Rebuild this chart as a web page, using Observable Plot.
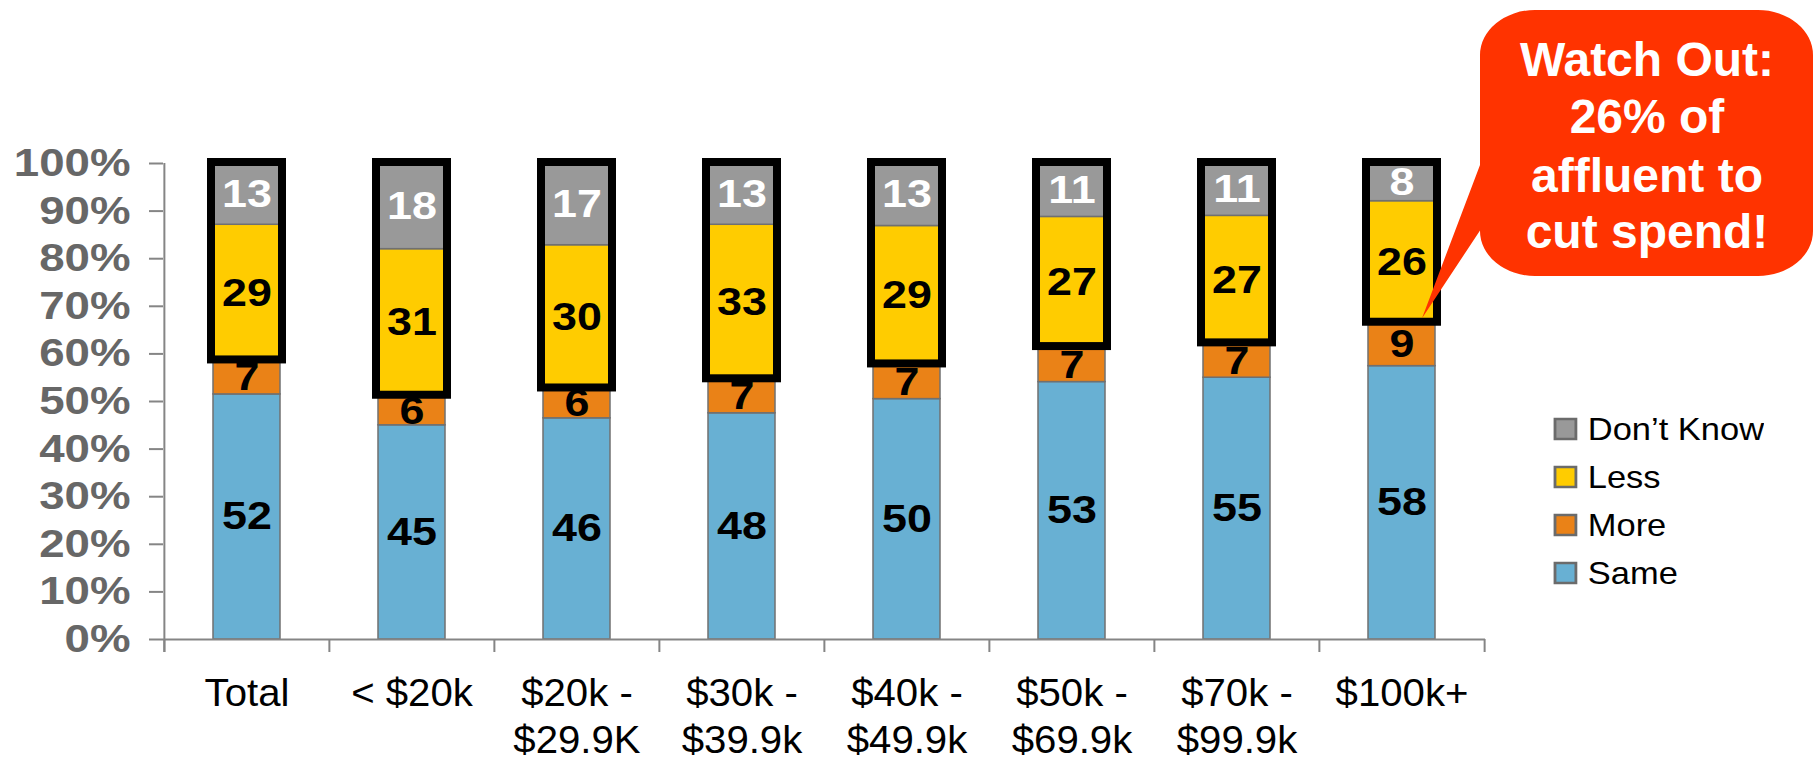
<!DOCTYPE html>
<html>
<head>
<meta charset="utf-8">
<script src="https://cdn.jsdelivr.net/npm/d3@7"></script>
<script src="https://cdn.jsdelivr.net/npm/@observablehq/plot@0.6"></script>
<style>
  html, body { margin: 0; padding: 0; background: #fff; }
  #wrap { position: relative; width: 1815px; height: 760px; overflow: hidden; font-family: "Liberation Sans", Arial, sans-serif; }
  #legend { position: absolute; left: 1555px; top: 405px; transform: scaleX(1.13); transform-origin: 0 0; }
  #legend .lg-swatches { font-family: "Liberation Sans", Arial, sans-serif; font-size: 30.5px; color: #000; margin: 0; min-height: 0; }
  #legend .lg-swatch { height: 48px; padding: 0; margin: 0; display: flex; align-items: center; }
  #legend .lg-swatch > svg { margin-right: 10.5px; overflow: visible; }
  #legend .lg-swatch > svg rect { stroke: #6b6b6b; stroke-width: 2.5px; }
</style>
</head>
<body>
<div id="wrap"><div id="chart"></div><div id="legend"></div></div>
<script>
// ---- data ----
const categories = ["Total", "< $20k", "$20k -\n$29.9K", "$30k -\n$39.9k", "$40k -\n$49.9k", "$50k -\n$69.9k", "$70k -\n$99.9k", "$100k+"];
const responses = ["Same", "More", "Less", "Don’t Know"];           // stack order, bottom to top
const same     = [52, 45, 46, 48, 50, 53, 55, 58];
const more     = [7, 6, 6, 7, 7, 7, 7, 9];
const less     = [29, 31, 30, 33, 29, 27, 27, 26];
const dontKnow = [13, 18, 17, 13, 13, 11, 11, 8];
const legendOrder = ["Don’t Know", "Less", "More", "Same"];
const legendColors = ["#999999", "#FFCC00", "#EA8217", "#68B0D3"];
const yTicks = [0, 0.1, 0.2, 0.3, 0.4, 0.5, 0.6, 0.7, 0.8, 0.9, 1];
const calloutLines = ["Watch Out:", "26% of", "affluent to", "cut spend!"];

// ---- table built from arrays ----
const series = [same, more, less, dontKnow];
const rows = [];
categories.forEach((c, i) => responses.forEach((r, k) => rows.push({cat: c, resp: r, v: series[k][i]})));
const boxes = categories.map((c, i) => {
  const tot = same[i] + more[i] + less[i] + dontKnow[i];
  return {cat: c, lo: (same[i] + more[i]) / tot, hi: 1};
});

// ---- layout ----
const W = 1815, H = 760, mL = 163, mR = 330, mT = 163, mB = 121;
const innerW = W - mL - mR, innerH = H - mT - mB;
const pIn = 0.595, pOut = pIn / 2;
const step = innerW / (categories.length - pIn + 2 * pOut);
const tickLen = 13 / innerH;
const axisColor = "#858585";

const stackOpts = {x: "cat", y: "v", z: "resp", order: responses, offset: "normalize"};

const chart = Plot.plot({
  width: W, height: H,
  marginLeft: mL, marginRight: mR, marginTop: mT, marginBottom: mB,
  style: {fontFamily: "'Liberation Sans', Arial, sans-serif", background: "white", overflow: "visible"},
  x: {domain: categories, paddingInner: pIn, paddingOuter: pOut, axis: null},
  y: {domain: [0, 1], axis: null},
  color: {domain: legendOrder, range: legendColors},
  marks: [
    Plot.barY(rows, Plot.stackY({...stackOpts, fill: "resp", stroke: "#707070", strokeWidth: 1.5})),
    Plot.ruleY([0], {stroke: axisColor, strokeWidth: 2}),
    Plot.ruleX([categories[0]], {x: d => d, dx: -step / 2, y1: -tickLen, y2: 1, stroke: axisColor, strokeWidth: 2}),
    Plot.ruleX(categories, {x: d => d, dx: -step / 2, y1: 0, y2: -tickLen, stroke: axisColor, strokeWidth: 2}),
    Plot.ruleX([categories[categories.length - 1]], {x: d => d, dx: step / 2, y1: 0, y2: -tickLen, stroke: axisColor, strokeWidth: 2}),
    Plot.axisY({ticks: yTicks, tickFormat: d3.format(".0%"), tickSize: 14, tickPadding: 19, stroke: axisColor, strokeWidth: 2,
      fontSize: 39, fontWeight: "bold", fill: "#676767", label: null}),
    Plot.axisX({tickSize: 0, tickPadding: 33, fontSize: 39, lineHeight: 1.2, fill: "#000", label: null}),
    Plot.barY(boxes, {x: "cat", y1: "lo", y2: "hi", fill: "none", stroke: "black", strokeWidth: 8, insetLeft: -2, insetRight: -2, insetTop: -1, insetBottom: 1.5}),
    Plot.text(rows, Plot.stackY({...stackOpts, text: d => d.resp === "Don’t Know" ? null : String(d.v), fill: "black", fontSize: 39, fontWeight: "bold"})),
    Plot.text(rows, Plot.stackY({...stackOpts, text: d => d.resp === "Don’t Know" ? String(d.v) : null, fill: "white", fontSize: 39, fontWeight: "bold"}))
  ]
});

// horizontal stretch of text (the reference glyphs are slightly wide)
function stretch(nodes, s) {
  nodes.forEach(n => {
    const t = n.getAttribute("transform") || "";
    const x = +n.getAttribute("x") || 0, y = +n.getAttribute("y") || 0;
    n.setAttribute("transform", `${t} translate(${x},${y}) scale(${s},1) translate(${-x},${-y})`);
  });
}
stretch(chart.querySelectorAll('g[aria-label="y-axis tick label"] text'), 1.17);
stretch(chart.querySelectorAll('g[aria-label="x-axis tick label"] text'), 1.03);
stretch(chart.querySelectorAll('g[aria-label="text"] text'), 1.15);

// callout annotation pointing at the $100k+ "Less" segment
const xs = chart.scale("x"), ys = chart.scale("y");
const li = categories.length - 1;
const totLast = same[li] + more[li] + less[li] + dontKnow[li];
const tipX = xs.apply(categories[li]) + xs.bandwidth - 13;
const tipY = ys.apply((same[li] + more[li]) / totLast) - 5;
const bx0 = 1480, bx1 = 1813, by0 = 10, by1 = 276, rx = 55, ry = 45;
const pth = `M${bx0 + rx},${by0} H${bx1 - rx} A${rx},${ry} 0 0 1 ${bx1},${by0 + ry} V${by1 - ry} A${rx},${ry} 0 0 1 ${bx1 - rx},${by1}
 H${bx0 + rx} A${rx},${ry} 0 0 1 ${bx0},${by1 - ry} V${by1 - ry - 0.5} L${tipX},${tipY} L${bx0},165 V${by0 + ry} A${rx},${ry} 0 0 1 ${bx0 + rx},${by0} Z`;
const g = d3.select(chart).append("g").attr("aria-label", "callout");
g.append("path").attr("d", pth).attr("fill", "#FF3300");
const baselines = [76, 133, 192, 248];
g.selectAll("text").data(calloutLines).join("text")
  .attr("x", 1647).attr("y", (d, i) => baselines[i])
  .attr("text-anchor", "middle").attr("fill", "white")
  .attr("font-size", 48).attr("font-weight", "bold")
  .attr("font-family", "'Liberation Sans', Arial, sans-serif")
  .text(d => d);

document.getElementById("chart").appendChild(chart);

// legend
const leg = chart.legend("color", {legend: "swatches", columns: 1, swatchWidth: 18.5, swatchHeight: 20, className: "lg"});
document.getElementById("legend").appendChild(leg);
</script>
</body>
</html>
